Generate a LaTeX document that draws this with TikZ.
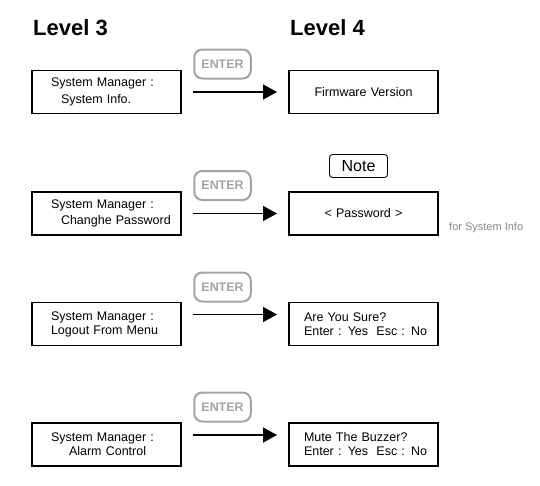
\documentclass[tikz,border=0pt]{standalone}
\usepackage{fontspec}
\setmainfont{Liberation Sans}
\usetikzlibrary{arrows.meta}
\definecolor{entergray}{HTML}{A3A3A3}
\definecolor{notegray}{HTML}{858585}
\tikzset{
  menubox/.style={draw=black, line width=1.1pt, rectangle, minimum width=149pt, minimum height=43pt,
    inner xsep=0pt, inner ysep=0pt, font=\fontsize{12.5}{14}\selectfont},
  leftbox/.style={menubox, text width=111pt, align=left},
  rightc/.style={menubox, text width=149pt, align=center},
  rightl/.style={menubox, text width=119pt, align=left},
  enterbox/.style={draw=entergray, line width=2pt, rounded corners=8pt, minimum width=56.5pt,
    minimum height=29pt, inner sep=0pt, text=entergray, font=\fontsize{12.4}{14}\selectfont\bfseries},
  notebox/.style={draw=black, line width=0.9pt, rounded corners=3pt, minimum width=58pt,
    minimum height=23pt, inner sep=0pt, font=\fontsize{16}{18}\selectfont},
  levelhead/.style={anchor=base west, inner sep=0pt, font=\fontsize{22}{24}\selectfont\bfseries},
  enterarrow/.style={line width=1.5pt, -{Triangle[length=14pt,width=15pt]}},
  sidenote/.style={anchor=west, inner sep=0pt, text=notegray, font=\fontsize{11}{12}\selectfont}
}
\begin{document}
\begin{tikzpicture}[x=1pt,y=-1pt]
\useasboundingbox (0,0) rectangle (540,485);
\node[levelhead] (l3) at (33,35.5) {Level 3};
\node[levelhead] (l4) at (290,35.5) {Level 4};
% row 1
\node[leftbox] (a1) at (106.5,92) {\mbox{System Manager :}\\[2.5pt]\mbox{\hspace*{10pt}System Info.}};
\node[rightc] (b1) at (363.5,92) {Firmware Version};
\node[enterbox] (e1) at (222.5,64) {ENTER};
\coordinate (s1) at (193,92);
\coordinate (t1) at (277,92);
\draw[enterarrow] (s1) -- (t1);
% row 2
\node[leftbox] (a2) at (106.5,213.5) {\mbox{System Manager :}\\[2.5pt]\mbox{\hspace*{10pt}Changhe Password}};
\node[rightc] (b2) at (363.5,213.5) {< Password >};
\node[enterbox] (e2) at (222.5,185.5) {ENTER};
\node[notebox] (n2) at (358.5,166) {Note};
\node[sidenote] (f2) at (449,228) {for System Info};
\coordinate (s2) at (193,213.5);
\coordinate (t2) at (277,213.5);
\draw[enterarrow] (s2) -- (t2);
% row 3
\node[leftbox] (a3) at (106.5,324) {\mbox{System Manager :}\\\mbox{Logout From Menu}};
\node[rightl] (b3) at (363.5,324) {\mbox{Are You Sure?}\\\mbox{Enter : Yes\ \ Esc : No}};
\node[enterbox] (e3) at (222.5,287) {ENTER};
\coordinate (s3) at (193,314.5);
\coordinate (t3) at (277,314.5);
\draw[enterarrow] (s3) -- (t3);
% row 4
\node[leftbox] (a4) at (106.5,444.5) {\mbox{System Manager :}\\\mbox{\hspace*{18pt}Alarm Control}};
\node[rightl] (b4) at (363.5,444.5) {\mbox{Mute The Buzzer?}\\\mbox{Enter : Yes\ \ Esc : No}};
\node[enterbox] (e4) at (222.5,407) {ENTER};
\coordinate (s4) at (193,435);
\coordinate (t4) at (277,435);
\draw[enterarrow] (s4) -- (t4);
\end{tikzpicture}
\end{document}
